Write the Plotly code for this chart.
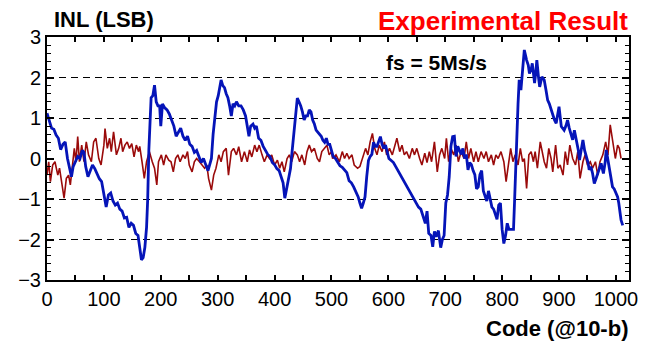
import plotly.graph_objects as go

# ---- data ----
blue_code = [0, 4, 8, 12, 16, 20, 24, 28, 32, 36, 40, 43, 46, 50, 54, 58, 62, 65, 68, 72, 76, 80, 84, 88, 92, 96,
             100, 104, 108, 112, 116, 120, 124, 128, 132, 136, 140, 144, 148, 152, 156, 160, 163, 166, 169, 172, 175,
             177, 179, 181, 183, 186, 189, 192, 195, 198, 200, 203, 207, 211, 215, 219, 223, 227, 231, 235, 239, 243,
             247, 251, 255, 259, 263, 267, 271, 275, 279, 283, 287, 289, 292, 295, 298, 301, 304, 306, 309, 312, 315,
             318, 321, 324, 327, 330, 333, 337, 341, 345, 349, 352, 355, 358, 362, 365, 368, 372, 376, 380, 384, 388,
             392, 396, 400, 404, 408, 412, 415, 418, 421, 424, 428, 431, 434, 437, 440, 443, 446, 449, 452, 455, 458,
             461, 464, 467, 470, 473, 476, 479, 482, 485, 488, 491, 494, 497, 500, 503, 507, 511, 515, 519, 523, 527,
             531, 535, 539, 543, 547, 550, 553, 556, 559, 562, 565, 568, 571, 574, 577, 580, 583, 586, 589, 592, 595,
             598, 601, 605, 609, 613, 617, 621, 625, 629, 633, 637, 641, 645, 649, 653, 657, 661, 665, 668, 671, 675,
             678, 681, 684, 688, 692, 695, 698, 701, 704, 707, 710, 713, 716, 719, 722, 725, 728, 731, 734, 737, 740,
             743, 746, 749, 752, 755, 758, 761, 764, 767, 770, 773, 776, 779, 782, 785, 788, 791, 794, 797, 800, 803,
             806, 809, 812, 816, 820, 822, 824, 826, 828, 830, 833, 836, 839, 843, 846, 848, 851, 853, 857, 859, 861,
             864, 866, 870, 874, 877, 880, 883, 886, 889, 892, 895, 898, 900, 904, 907, 909, 912, 915, 918, 921, 924,
             927, 931, 934, 936, 939, 942, 945, 948, 951, 953, 956, 959, 962, 965, 968, 971, 974, 978, 981, 983, 987,
             991, 994, 997, 1000, 1003, 1005, 1009, 1012]
blue_inl = [1.12, 0.95, 0.75, 0.72, 0.58, 0.5, 0.22, 0.35, 0.41, 0.0, -0.3, -0.45, -0.2, -0.05, 0.05, 0.0, 0.2, 0.15,
            -0.2, -0.45, -0.3, -0.16, -0.25, -0.4, -0.5, -0.57, -0.85, -1.2, -0.9, -0.85, -1.05, -1.15, -1.1, -1.25,
            -1.3, -1.47, -1.45, -1.7, -1.6, -1.65, -1.85, -1.9, -2.2, -2.5, -2.45, -2.2, -1.7, -1.0, 0.2, 0.9, 1.5,
            1.55, 1.81, 1.4, 1.3, 1.3, 0.8, 1.35, 1.25, 1.2, 1.1, 0.95, 0.8, 0.55, 0.65, 0.75, 0.55, 0.45, 0.55, 0.35,
            0.3, 0.15, 0.2, 0.05, -0.1, 0.0, -0.15, -0.3, -0.1, 0.0, 0.6, 1.0, 1.4, 1.55, 1.8, 1.94, 1.8, 1.75, 1.6,
            1.5, 1.3, 1.05, 1.35, 1.3, 1.4, 1.3, 1.3, 1.2, 1.05, 0.8, 0.55, 0.8, 0.85, 0.75, 0.8, 0.5, 0.45, 0.3, 0.2,
            0.1, 0.05, -0.1, -0.15, -0.25, -0.3, -0.45, -0.6, -0.98, -0.75, -0.6, -0.25, 0.2, 0.6, 1.1, 1.49, 1.4,
            1.3, 1.15, 0.95, 1.05, 1.05, 1.2, 1.15, 0.95, 0.85, 0.7, 0.65, 0.6, 0.55, 0.45, 0.4, 0.5, 0.35, 0.35, 0.2,
            0.05, 0.0, -0.1, -0.18, -0.22, -0.3, -0.35, -0.55, -0.6, -0.7, -0.82, -0.95, -1.1, -1.23, -1.1, -0.95,
            -0.45, -0.05, 0.05, 0.1, 0.4, 0.3, 0.3, 0.41, 0.54, 0.35, 0.25, 0.33, 0.15, 0.0, -0.05, -0.1, -0.2, -0.3,
            -0.42, -0.5, -0.62, -0.72, -0.82, -0.9, -1.0, -1.1, -1.2, -1.25, -1.45, -1.6, -1.3, -1.85, -1.9, -2.18,
            -1.8, -1.93, -1.78, -2.2, -2.0, -1.9, -1.1, -0.9, -0.45, 0.3, 0.54, 0.55, 0.05, 0.3, 0.2, 0.1, 0.25, 0.0,
            0.1, -0.28, -0.1, -0.15, -0.3, -0.4, -0.75, -0.7, -0.4, -0.3, -0.8, -0.95, -1.05, -0.8, -1.0, -1.2, -1.25,
            -1.4, -1.5, -1.15, -1.1, -1.75, -2.1, -1.9, -1.6, -1.75, -1.75, -1.75, -1.0, 0.0, 0.8, 1.36, 1.94, 1.69,
            2.19, 2.68, 2.43, 2.3, 2.1, 2.2, 2.35, 1.86, 2.1, 2.43, 2.0, 1.77, 2.02, 1.94, 1.7, 1.44, 1.35, 1.2, 1.1,
            0.95, 0.87, 1.1, 1.28, 0.79, 0.75, 0.7, 0.8, 0.95, 0.75, 0.62, 0.46, 0.7, 0.46, 0.2, -0.04, 0.2, 0.46,
            0.2, 0.04, -0.1, -0.28, -0.2, -0.37, -0.62, -0.5, -0.37, -0.3, -0.12, -0.37, -0.1, 0.21, -0.12, -0.53,
            -0.7, -0.75, -0.86, -0.95, -1.1, -1.52, -1.65]

red_code = [0, 3, 6, 10, 14, 19, 22, 26, 30, 34, 38, 41, 45, 48, 51, 54, 57, 61, 65, 69, 73, 78, 82, 86, 91, 95,
            100, 102, 106, 110, 113, 117, 122, 126, 130, 133, 137, 141, 145, 149, 153, 157, 161, 163, 167, 171, 175,
            180, 185, 189, 193, 196, 201, 205, 209, 214, 218, 222, 226, 230, 234, 239, 243, 247, 250, 255, 259, 263,
            268, 273, 277, 281, 284, 289, 293, 297, 302, 306, 310, 315, 319, 324, 328, 333, 337, 342, 347, 352, 356,
            360, 365, 369, 373, 378, 382, 387, 391, 395, 400, 405, 409, 413, 417, 422, 426, 430, 435, 440, 444, 448,
            453, 457, 461, 465, 470, 475, 479, 483, 488, 492, 496, 500, 502, 508, 514, 519, 523, 527, 531, 536, 540,
            546, 550, 555, 560, 564, 568, 572, 576, 580, 584, 589, 593, 597, 602, 607, 611, 615, 620, 624, 628, 632,
            637, 642, 646, 650, 655, 659, 664, 668, 672, 676, 681, 686, 690, 694, 699, 702, 706, 710, 715, 719, 723,
            728, 733, 737, 741, 745, 750, 754, 758, 763, 768, 772, 776, 781, 785, 789, 793, 798, 803, 807, 811, 815,
            819, 823, 828, 832, 836, 839, 843, 847, 851, 855, 858, 862, 867, 870, 874, 878, 882, 886, 889, 894, 898,
            902, 907, 911, 915, 919, 924, 929, 933, 937, 942, 946, 950, 955, 959, 964, 968, 972, 977, 982, 986, 990,
            994, 999, 1003, 1006, 1009]
red_inl = [-0.41, -0.08, -0.57, -0.16, -0.08, -0.41, -0.24, -0.57, -0.98, -0.49, -0.41, -0.65, -0.16, 0.25, -0.08,
           0.54, -0.08, 0.33, -0.08, 0.41, 0.09, -0.08, 0.41, 0.5, 0.0, -0.16, 0.33, 0.74, 0.25, 0.5, 0.17, 0.66,
           0.09, 0.25, 0.5, 0.17, 0.33, 0.41, 0.25, 0.37, 0.04, 0.33, 0.17, 0.3, -0.08, -0.49, -0.08, 0.17, -0.08,
           -0.24, -0.65, -0.08, 0.09, -0.16, 0.09, -0.04, -0.08, -0.33, 0.0, 0.09, -0.08, 0.09, 0.0, 0.17, -0.16,
           -0.33, -0.08, 0.0, -0.08, -0.16, -0.24, -0.16, -0.49, -0.78, -0.41, -0.24, 0.09, -0.08, 0.17, 0.25, -0.41,
           0.17, 0.25, 0.09, 0.29, -0.08, 0.17, -0.08, 0.21, 0.04, 0.33, 0.17, 0.33, 0.09, -0.08, 0.09, 0.0, 0.09,
           -0.16, -0.04, -0.24, -0.08, -0.33, 0.0, 0.09, -0.08, 0.17, 0.09, -0.08, 0.09, -0.16, 0.17, 0.33, 0.17,
           0.25, 0.0, -0.08, 0.17, 0.25, 0.33, 0.09, 0.17, 0.0, 0.09, -0.08, 0.17, 0.0, 0.13, 0.0, 0.09, -0.16, -0.24,
           -0.2, 0.0, 0.25, 0.09, 0.41, 0.62, 0.25, 0.09, 0.33, 0.17, 0.41, 0.09, 0.25, 0.09, 0.33, 0.5, 0.17, 0.33,
           0.09, 0.17, 0.0, 0.25, 0.09, 0.25, 0.0, -0.16, 0.13, -0.1, 0.17, -0.08, 0.41, -0.33, 0.09, 0.25, 0.0, 0.5,
           -0.08, 0.25, 0.09, 0.33, -0.08, 0.17, 0.0, 0.41, 0.0, 0.25, -0.08, 0.17, -0.08, 0.17, 0.0, 0.17, -0.08,
           0.09, -0.16, 0.09, 0.0, 0.17, -0.08, -0.57, -0.16, 0.25, -0.08, 0.09, -0.16, 0.25, -0.08, 0.0, -0.74, 0.09,
           0.17, -0.08, 0.17, -0.24, 0.41, 0.17, -0.08, -0.24, 0.25, 0.0, -0.33, 0.33, -0.24, -0.16, -0.41, 0.17,
           -0.16, 0.33, 0.0, -0.16, 0.17, -0.49, -0.08, 0.09, -0.16, -0.08, -0.24, -0.08, -0.41, -0.08, 0.09, 0.41,
           0.09, 0.83, 0.5, 0.0, 0.33, 0.25, 0.0]

y_ticks = [-3, -2, -1, 0, 1, 2, 3]
y_grid = [-2, -1, 1, 2]
x_ticks = [0, 100, 200, 300, 400, 500, 600, 700, 800, 900, 1000]

FONT = "Liberation Sans, Arial, sans-serif"

fig = go.Figure()
fig.add_trace(go.Scatter(x=[None], y=[None], yaxis="y2", showlegend=False, hoverinfo="skip"))
fig.add_trace(go.Scatter(x=red_code, y=red_inl, mode="lines",
                         line=dict(color="#9a0a0a", width=1.6), showlegend=False))
fig.add_trace(go.Scatter(x=blue_code, y=blue_inl, mode="lines",
                         line=dict(color="#0514b8", width=2.8), showlegend=False))

fig.update_layout(
    width=646, height=348, autosize=False,
    margin=dict(l=47, r=17, t=37, b=68),
    paper_bgcolor="white", plot_bgcolor="white",
    font=dict(family=FONT, color="black"),
    xaxis=dict(range=[0, 1023], tickvals=x_ticks, ticks="inside", ticklen=5, tickwidth=1.5,
               tickcolor="black", showline=True, linecolor="black", linewidth=2, mirror="ticks",
               showgrid=False, zeroline=False, automargin=False, ticklabeloverflow="allow",
               tickfont=dict(size=20, family=FONT),
               minor=dict(dtick=50, ticks="inside", ticklen=5, tickwidth=1.5, tickcolor="black")),
    yaxis=dict(range=[-3, 3], tickvals=y_ticks, ticks="inside", ticklen=7, tickwidth=1.5,
               tickcolor="black", showline=True, linecolor="black", linewidth=2, mirror="ticks",
               showgrid=False, zeroline=False, automargin=False, ticklabeloverflow="allow",
               tickfont=dict(size=20, family=FONT),
               minor=dict(dtick=0.2, ticks="inside", ticklen=4, tickwidth=1.2, tickcolor="black")),
    yaxis2=dict(range=[-3, 3], overlaying="y", tickvals=y_grid, showticklabels=False, ticks="",
                showgrid=True, gridcolor="black", gridwidth=1, griddash="7px,5px", zeroline=False,
                showline=False, automargin=False),
    annotations=[
        dict(text="<b>INL (LSB)</b>", xref="paper", yref="paper", x=0.008, y=1.07,
             xanchor="left", yanchor="middle", showarrow=False, font=dict(size=22, family=FONT)),
        dict(text="<b>Experimental Result</b>", xref="paper", yref="paper", x=1.002, y=1.066,
             xanchor="right", yanchor="middle", showarrow=False,
             font=dict(size=26, family=FONT, color="#ff0000")),
        dict(text="<b>fs = 5Ms/s</b>", xref="paper", yref="paper", x=0.579, y=0.897,
             xanchor="left", yanchor="middle", showarrow=False, font=dict(size=21, family=FONT)),
        dict(text="<b>Code (@10-b)</b>", xref="paper", yref="paper", x=1.002, y=-0.2,
             xanchor="right", yanchor="middle", showarrow=False, font=dict(size=22, family=FONT)),
    ],
)

# remove the default 8px page margin so the 646x348 figure fills the window exactly
fig.write_html("out.html", config={"displayModeBar": False},
               post_script="document.body.style.margin='0';document.body.style.overflow='hidden';")
